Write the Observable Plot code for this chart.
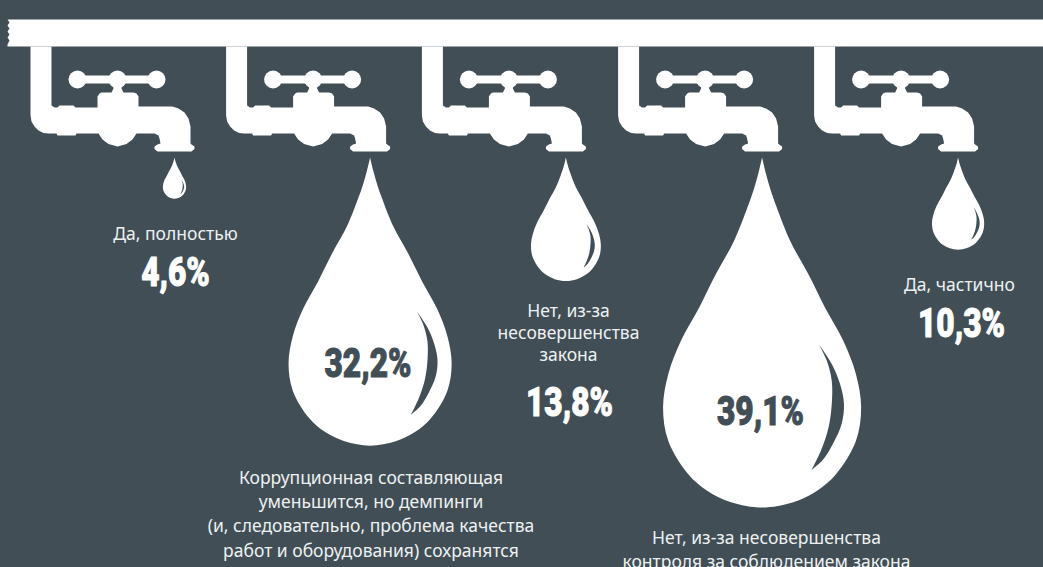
<!DOCTYPE html>
<html lang="ru">
<head>
<meta charset="utf-8">
<title>Капли</title>
<script src="https://cdn.jsdelivr.net/npm/d3@7"></script>
<script src="https://cdn.jsdelivr.net/npm/@observablehq/plot@0.6"></script>
<style>
  html, body { margin: 0; padding: 0; background: #414e56; overflow: hidden; }
  svg { display: block; }
</style>
</head>
<body>
<script>
// Survey answers, left to right along the pipe
const answers = [
  "Да, полностью",
  "Коррупционная составляющая\nуменьшится, но демпинги\n(и, следовательно, проблема качества\nработ и оборудования) сохранятся",
  "Нет, из-за\nнесовершенства\nзакона",
  "Нет, из-за несовершенства\nконтроля за соблюдением закона",
  "Да, частично"
];
const shares = [4.6, 32.2, 13.8, 39.1, 10.3];

// Layout of the five taps and their captions, in pixels
const tapX = [174, 369.6, 565.4, 761.6, 957.6];
const dropTop = 157;
const answerX = [175, 370.5, 568, 766, 959];
const answerY = [231.5, 512, 331.5, 547.5, 282.5];
const answerLeading = [1.39, 1.39, 1.24, 1.39, 1.39];
const shareX = [175, 367.5, 569, 760, 961];
const shareY = [272.5, 364, 402.5, 412, 324];
const shareInside = [false, true, false, true, false];

const bg = "#414e56";
const white = "#ffffff";
const text = "#eef1f1";

// Both position scales count in percentage points, so a drop's height equals its share
const pxPerPoint = 8.95;
const w = 1043, h = 567;
const px = (v) => v / pxPerPoint;
const py = (v) => (v - dropTop) / pxPerPoint;

// Teardrop outline (right half) for a drop one unit high: offset from axis, distance from tip
const dropHalf = [
  [0, 0], [0.0114, 0.048], [0.025, 0.095], [0.042, 0.143], [0.080, 0.238], [0.132, 0.333], [0.180, 0.429],
  [0.232, 0.524], [0.268, 0.619], [0.283, 0.714], [0.268, 0.810], [0.211, 0.905], [0.157, 0.952], [0.089, 0.985], [0, 1]
];
const dropOutline = [...dropHalf, ...dropHalf.slice(0, -1).reverse().map(([u, v]) => [-u, v])];

// Highlight crescent on the right flank of the drop, with doubled corner points
const crescent = [
  [0.163, 0.535], [0.163, 0.535], [0.199, 0.590], [0.223, 0.648], [0.234, 0.705], [0.227, 0.762],
  [0.204, 0.815], [0.175, 0.862], [0.142, 0.892], [0.142, 0.892],
  [0.170, 0.833], [0.190, 0.771], [0.199, 0.705], [0.199, 0.638], [0.185, 0.581], [0.163, 0.535], [0.163, 0.535]
];

// Tap parts, pixels relative to the tap's spout axis (x) and page top (y)
const pipeOutline = [
  [7, 19], [9, 22], [7, 25], [9, 28], [7, 31], [9, 34], [7, 37], [9, 40], [7, 44], [7, 46],
  [1043, 46], [1043, 19]
];
const tapBody = [
  [-144, 46], [-144, 115], [-143, 121], [-140, 126], [-136, 130], [-131, 132.5], [-126, 133],
  [-118, 133], [-117, 135], [-99, 135], [-98, 133], [-76, 133], [-72, 139], [-66, 143.5], [-57, 146],
  [-48, 143.5], [-42, 139], [-38, 133], [-20, 133], [-16, 135], [-15, 138], [-14, 143],
  [-17, 144], [-20, 146], [-20, 148.5], [-17, 151], [17, 151], [20, 148.5], [20, 146], [17, 144], [16, 143],
  [16, 126], [14, 118], [10, 112], [4, 108], [-2, 106], [-36, 106],
  [-36, 96], [-38, 93], [-41, 92], [-51, 92], [-53, 88], [-53, 79], [-61, 79], [-61, 88], [-63, 92],
  [-73, 92], [-75, 93], [-77, 96], [-77, 107], [-99, 107], [-101, 105], [-115, 105], [-117, 107],
  [-120, 107], [-123, 105], [-123, 46]
];
const handleBar = [[-97, 75], [-18, 75], [-18, 83], [-97, 83]];
const handleKnobs = [[-97, 79], [-57, 79], [-18, 79]];

// Expand the shape templates into plotted rows, one group per tap or drop
const drops = shares.flatMap((share, i) =>
  dropOutline.map(([u, v]) => ({ id: i, x: px(tapX[i]) + u * share, y: v * share }))
);
const highlights = shares.flatMap((share, i) =>
  crescent.map(([u, v]) => ({ id: i, x: px(tapX[i]) + u * share, y: v * share }))
);
const tapShapes = tapX.flatMap((cx, i) =>
  [tapBody, handleBar].flatMap((shape, k) =>
    shape.map(([x, y]) => ({ id: `${i}-${k}`, x: px(cx + x), y: py(y) }))
  )
);
const knobs = tapX.flatMap((cx) => handleKnobs.map(([x, y]) => ({ x: px(cx + x), y: py(y) })));
const pipe = pipeOutline.map(([x, y]) => ({ x: px(x), y: py(y) }));

const rows = answers.map((answer, i) => ({
  answer,
  label: String(shares[i]).replace(".", ",") + "%",
  ax: px(answerX[i]),
  ay: py(answerY[i]),
  leading: answerLeading[i],
  sx: px(shareX[i]),
  sy: py(shareY[i]),
  inside: shareInside[i]
}));

const labelFont = { fontFamily: "'Noto Sans', sans-serif", fontSize: 17.5, letterSpacing: "1.2px" };
const shareFont = { fontFamily: "Roboto, 'Liberation Sans', sans-serif", fontWeight: 900, fontSize: 40 };
const shareColor = (d) => (d.inside ? bg : white);

// Plot takes one line height per text mark, so each distinct leading gets its own mark
const captionMarks = [...new Set(answerLeading)].map((leading) =>
  Plot.text(rows.filter((d) => d.leading === leading), {
    x: "ax", y: "ay", text: "answer", fill: text, lineHeight: leading, textAnchor: "middle", ...labelFont
  })
);

const chart = Plot.plot({
  width: w,
  height: h,
  margin: 0,
  style: { background: bg, overflow: "hidden" },
  x: { domain: [0, px(w)], range: [0, w], axis: null },
  y: { domain: [py(0), py(h)], range: [0, h], axis: null },
  marks: [
    Plot.line(pipe, { x: "x", y: "y", fill: white, stroke: "none" }),
    Plot.line(tapShapes, { x: "x", y: "y", z: "id", fill: white, stroke: "none" }),
    Plot.dot(knobs, { x: "x", y: "y", r: 9, fill: white }),
    Plot.line(drops, { x: "x", y: "y", z: "id", fill: white, stroke: "none", curve: "catmull-rom" }),
    Plot.line(highlights, { x: "x", y: "y", z: "id", fill: bg, stroke: "none", curve: "catmull-rom" }),
    ...captionMarks,
    Plot.text(rows, {
      x: "sx", y: "sy", text: "label", fill: shareColor, stroke: shareColor, strokeWidth: 1,
      textAnchor: "middle", className: "share", ...shareFont
    })
  ]
});

document.body.append(chart);

// The share figures are set in a condensed cut: narrow each one once it can be measured
d3.select(chart).selectAll(".share text").each(function () {
  this.setAttribute("textLength", this.getComputedTextLength() * 0.79);
  this.setAttribute("lengthAdjust", "spacingAndGlyphs");
});
</script>
</body>
</html>
